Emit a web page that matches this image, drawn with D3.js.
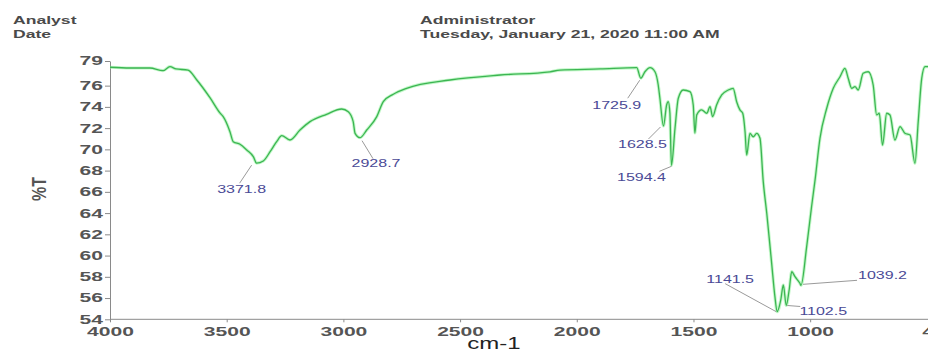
<!DOCTYPE html>
<html>
<head>
<meta charset="utf-8">
<script src="https://cdn.jsdelivr.net/npm/d3@7"></script>
<style>
  html, body { margin: 0; padding: 0; background: #fff; }
  svg { display: block; }
  text { font-family: "Liberation Sans", Arial, sans-serif; }
</style>
</head>
<body>
<script>
// IR spectrum: wavenumber (cm-1) vs. transmittance (%T)
const wavenumbers = [
  4000, 3914, 3829, 3773, 3743, 3717, 3666, 3628, 3571, 3529, 3515, 3486, 3472, 3443, 3414, 3386,
  3371.8, 3343, 3314, 3286, 3264, 3229, 3186, 3143, 3072, 3007, 2979, 2958, 2950, 2928.7, 2900,
  2857, 2829, 2786, 2729, 2543, 2329, 2115, 2072, 1900, 1743, 1725.9, 1708, 1686, 1665, 1651,
  1644, 1628.5, 1615, 1608, 1601, 1594.4, 1579, 1565, 1544, 1515, 1501, 1494, 1486, 1465, 1443,
  1429, 1418, 1401, 1379, 1351, 1330, 1315, 1301, 1289, 1279, 1272, 1258, 1244, 1229, 1215, 1201,
  1186, 1165, 1151, 1141.5, 1126, 1115, 1102.5, 1090, 1079, 1065, 1044, 1039.2, 1015, 994, 979,
  958, 929, 901, 872, 851, 837, 822, 808, 794, 773, 751, 730, 715, 704, 690, 672, 658, 637, 615,
  594, 572, 551, 537, 522, 508, 497, 450, 400
];
const transmittance = [
  77.73, 77.66, 77.66, 77.41, 77.79, 77.57, 77.47, 76.53, 74.84, 73.43, 73.08, 71.66, 70.72, 70.48, 69.94, 69.31,
  68.7, 68.91, 69.78, 70.72, 71.29, 70.88, 71.82, 72.61, 73.30, 73.80, 73.55, 72.61, 71.51, 71.1, 71.82,
  73.08, 74.49, 75.19, 75.75, 76.53, 77.0, 77.3, 77.47, 77.57, 77.69, 76.7, 77.31, 77.69, 77.31, 76.06,
  74.84, 72.2, 74.18, 74.49, 73.43, 68.5, 72.01, 74.81, 75.59, 75.43, 74.18, 71.54, 73.25, 73.72, 73.40,
  74.02, 73.08, 74.18, 75.12, 75.59, 75.75, 74.49, 73.72, 73.40, 71.66, 69.47, 71.51, 71.19, 71.51, 71.04, 66.96,
  63.98, 59.27, 56.13, 54.72, 55.82, 57.23, 55.3, 56.76, 58.48, 58.01, 57.39, 57.2, 60.84, 64.60, 67.12,
  71.04, 73.87, 75.75, 76.84, 77.63, 76.69, 75.75, 75.90, 75.59, 77.16, 77.31, 76.06, 73.24, 73.40, 70.41, 73.40, 73.24, 70.88, 72.14,
  71.51, 71.35, 68.69, 72.61, 76.69, 77.79, 77.79, 77.8, 77.8
];

// Labelled absorption bands
const peakWavenumbers = [3371.8, 2928.7, 1725.9, 1628.5, 1594.4, 1141.5, 1102.5, 1039.2];
const peakTransmittance = [68.7, 71.1, 76.7, 72.2, 68.5, 54.72, 55.3, 57.2];
const peakLabels = ["3371.8", "2928.7", "1725.9", "1628.5", "1594.4", "1141.5", "1102.5", "1039.2"];

// Axis ticks
const xTickValues = [4000, 3500, 3000, 2500, 2000, 1500, 1000, 400];
const xTickLabels = ["4000", "3500", "3000", "2500", "2000", "1500", "1000", "400"];
const yTickValues = [54, 56, 58, 60, 62, 64, 66, 68, 70, 72, 74, 76, 78.32];
const yTickLabels = ["54", "56", "58", "60", "62", "64", "66", "68", "70", "72", "74", "76", "79"];

// Header
const headerLeft = ["Analyst", "Date"];
const headerRight = ["Administrator", "Tuesday, January 21, 2020 11:00 AM"];

// Annotation layout: leader line start/end and label anchor, relative to each peak (px)
const annotationLayout = [
  { s: [-5, 2],  e: [-17, 20], t: [-15, 30] },
  { s: [2, 3],   e: [13, 21],  t: [16, 29] },
  { s: [-1, 2],  e: [-13, 20], t: [-24, 31] },
  { s: [-3, 1],  e: [-15, 13], t: [-21, 22] },
  { s: [0, 1],   e: [-12, 6],  t: [-30, 16] },
  { s: [-1, 0],  e: [-52, -28], t: [-47, -29] },
  { s: [1, 0],   e: [14, 1],   t: [37, 9.5] },
  { s: [2, -1],  e: [56, -5],  t: [81.5, -6.5] }
];

const W = 928, H = 352;
const STRETCH = 1.6; // horizontal text stretch

const svg = d3.select("body").append("svg")
  .attr("width", W).attr("height", H);

const x = d3.scaleLinear().domain([4000, 400]).range([110, 950.2]);
const y = d3.scaleLinear().domain([54, 78.32]).range([319.3, 61]);

// header text
const hdr = svg.append("g").attr("fill", "#4a4a4a").attr("font-weight", "bold").attr("font-size", 11);
headerLeft.forEach((t, i) => {
  hdr.append("text").attr("transform", `translate(13,${24 + i * 14}) scale(${STRETCH},1)`).text(t);
});
headerRight.forEach((t, i) => {
  hdr.append("text").attr("transform", `translate(420,${24 + i * 14}) scale(${STRETCH},1)`).text(t);
});

// axes
const axisColor = "#8a8a8a";
const xAxis = d3.axisBottom(x)
  .tickValues(xTickValues)
  .tickFormat((d, i) => xTickLabels[i])
  .tickSize(3).tickSizeOuter(0);
const gx = svg.append("g").attr("transform", "translate(0,319.3)").call(xAxis);
gx.select(".domain").attr("stroke", axisColor).attr("d", `M110,0H${W}`);
gx.selectAll(".tick line").attr("stroke", axisColor);
gx.selectAll(".tick text")
  .attr("font-family", "Liberation Sans, Arial, sans-serif")
  .attr("font-size", 13).attr("font-weight", "bold").attr("fill", "#555")
  .attr("y", 7)
  .attr("transform", (d, i) => `translate(${i === xTickValues.length - 1 ? -11 : 0},0) scale(1.62,1)`);

const yAxis = d3.axisLeft(y)
  .tickValues(yTickValues)
  .tickFormat((d, i) => yTickLabels[i])
  .tickSize(5).tickSizeOuter(0);
const gy = svg.append("g").attr("transform", "translate(110,0)").call(yAxis);
gy.select(".domain").attr("stroke", axisColor);
gy.selectAll(".tick line").attr("stroke", axisColor);
gy.selectAll(".tick text")
  .attr("font-family", "Liberation Sans, Arial, sans-serif")
  .attr("font-size", 13).attr("font-weight", "bold").attr("fill", "#555")
  .attr("x", 0).attr("dy", "0.3em")
  .attr("text-anchor", "end")
  .attr("transform", "translate(-7,0) scale(1.62,1)");

// axis titles
svg.append("text")
  .attr("transform", `translate(494,349) scale(1.5,1)`)
  .attr("text-anchor", "middle").attr("font-size", 16).attr("fill", "#222")
  .text("cm-1");
svg.append("text")
  .attr("transform", `translate(46,189) scale(1.25,1) rotate(-90)`)
  .attr("text-anchor", "middle").attr("font-size", 16).attr("font-weight", "bold").attr("fill", "#555")
  .text("%T");

// spectrum
const pts = wavenumbers.map((w, i) => [w, transmittance[i]]);
const line = d3.line().x(d => x(d[0])).y(d => y(d[1])).curve(d3.curveMonotoneX);
svg.append("path").datum(pts).attr("d", line)
  .attr("fill", "none").attr("stroke", "#8ff09b").attr("stroke-width", 3.2)
  .attr("stroke-opacity", 0.55).attr("stroke-linejoin", "round");
svg.append("path").datum(pts).attr("d", line)
  .attr("fill", "none").attr("stroke", "#3cb552").attr("stroke-width", 1.3)
  .attr("stroke-linejoin", "round");

// peak annotations
const ann = svg.append("g");
peakWavenumbers.forEach((w, i) => {
  const px = x(w), py = y(peakTransmittance[i]);
  const L = annotationLayout[i];
  ann.append("line")
    .attr("x1", px + L.s[0]).attr("y1", py + L.s[1])
    .attr("x2", px + L.e[0]).attr("y2", py + L.e[1])
    .attr("stroke", "#9a9a9a").attr("stroke-width", 1);
  ann.append("text")
    .attr("transform", `translate(${px + L.t[0]},${py + L.t[1]}) scale(${STRETCH},1)`)
    .attr("text-anchor", "middle").attr("font-size", 10).attr("fill", "#4a4a96")
    .text(peakLabels[i]);
});
</script>
</body>
</html>
